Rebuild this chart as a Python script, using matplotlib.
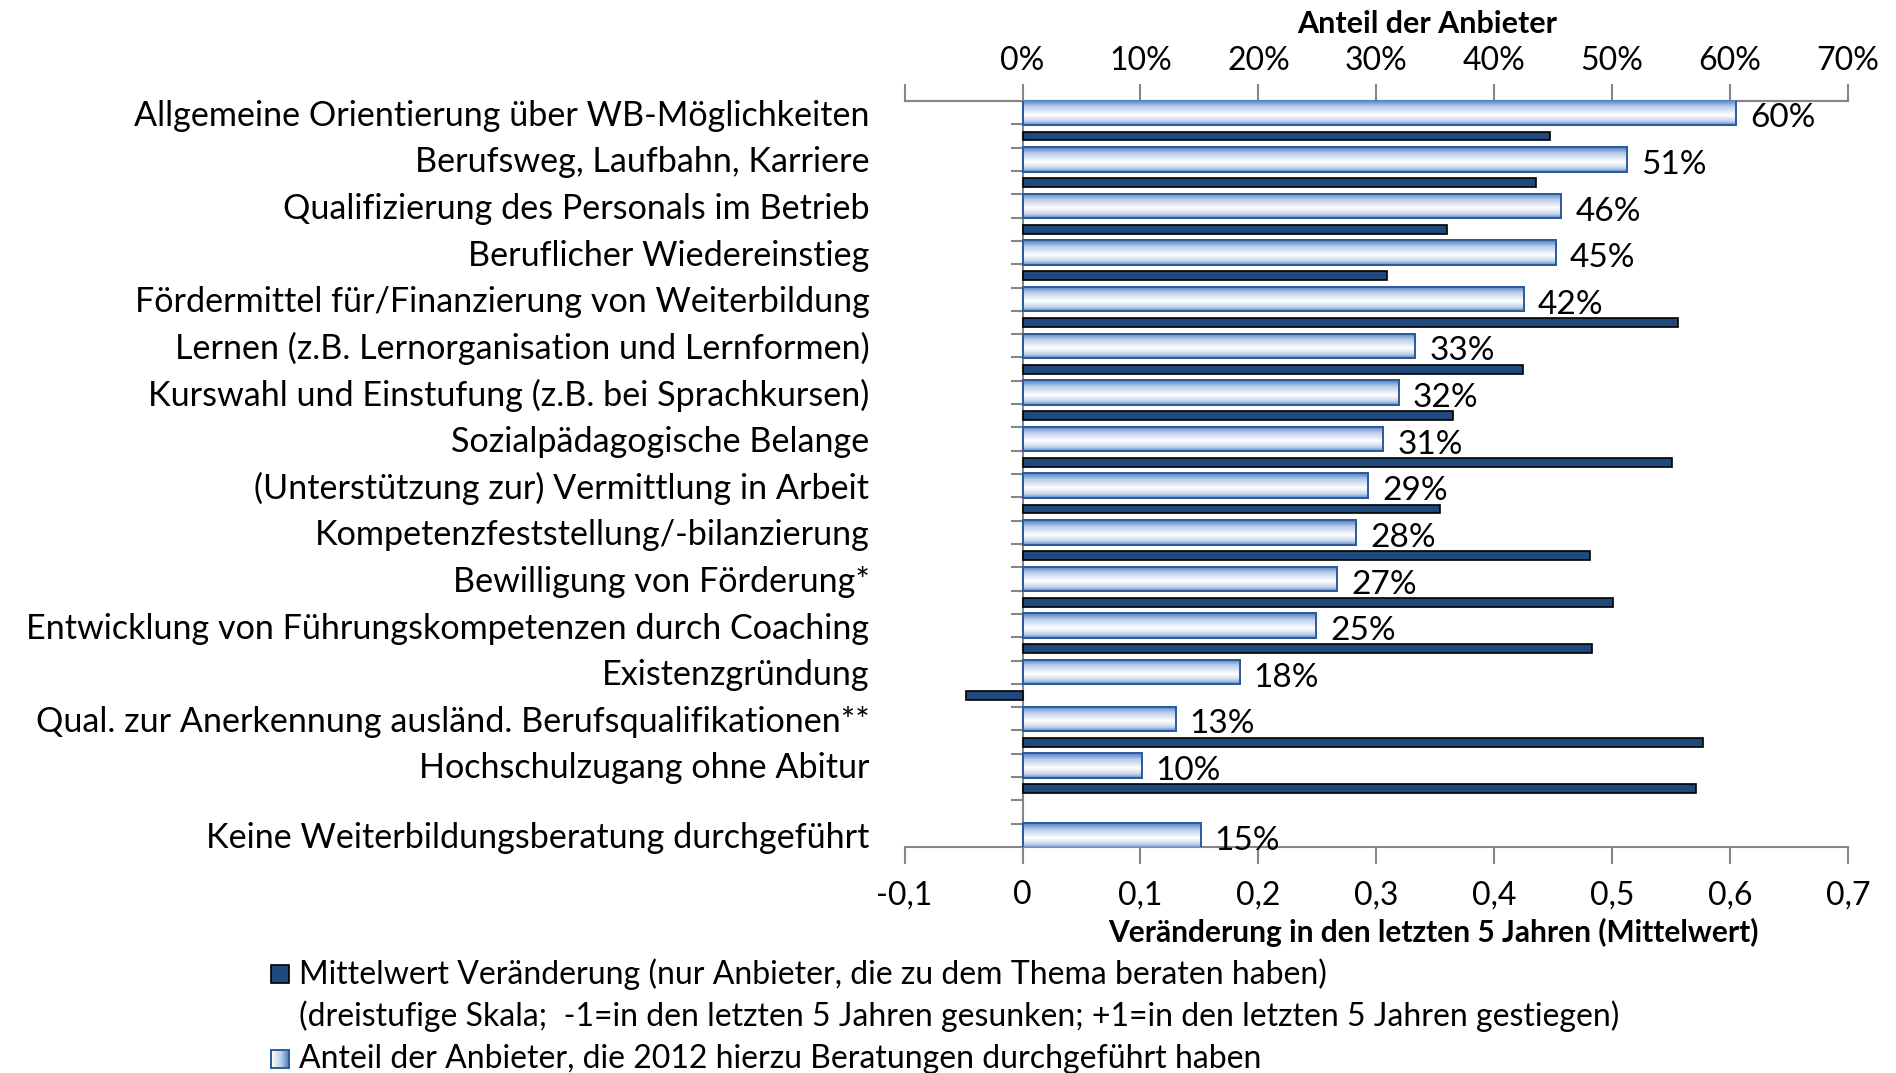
import matplotlib
matplotlib.use("Agg")
import matplotlib.pyplot as plt
import numpy as np
from matplotlib.colors import LinearSegmentedColormap
from matplotlib.patches import Rectangle
from matplotlib.transforms import blended_transform_factory, ScaledTranslation

plt.rcParams['font.family'] = ['Lato', 'DejaVu Sans']

categories = [
    "Allgemeine Orientierung über WB-Möglichkeiten",
    "Berufsweg, Laufbahn, Karriere",
    "Qualifizierung des Personals im Betrieb",
    "Beruflicher Wiedereinstieg",
    "Fördermittel für/Finanzierung von Weiterbildung",
    "Lernen (z.B. Lernorganisation und Lernformen)",
    "Kurswahl und Einstufung (z.B. bei Sprachkursen)",
    "Sozialpädagogische Belange",
    "(Unterstützung zur) Vermittlung in Arbeit",
    "Kompetenzfeststellung/-bilanzierung",
    "Bewilligung von Förderung*",
    "Entwicklung von Führungskompetenzen durch Coaching",
    "Existenzgründung",
    "Qual. zur Anerkennung ausländ. Berufsqualifikationen**",
    "Hochschulzugang ohne Abitur",
    "Keine Weiterbildungsberatung durchgeführt",
]
anteil = [0.605, 0.513, 0.457, 0.452, 0.425, 0.333, 0.319, 0.306, 0.293,
          0.283, 0.267, 0.249, 0.184, 0.130, 0.101, 0.151]
anteil_labels = ["60%", "51%", "46%", "45%", "42%", "33%", "32%", "31%", "29%",
                 "28%", "27%", "25%", "18%", "13%", "10%", "15%"]
mittelwert = [0.447, 0.435, 0.360, 0.309, 0.556, 0.424, 0.365, 0.551, 0.354,
              0.481, 0.501, 0.483, -0.048, 0.577, 0.571]
bottom_ticks = [-0.1, 0, 0.1, 0.2, 0.3, 0.4, 0.5, 0.6, 0.7]
bottom_labels = ["-0,1", "0", "0,1", "0,2", "0,3", "0,4", "0,5", "0,6", "0,7"]
top_labels = ["", "0%", "10%", "20%", "30%", "40%", "50%", "60%", "70%"]

FS = 23
FS_CAT = 24.6
GRAY = "#868686"
NAVY = "#1F497D"
EDGE_BLUE = "#2C5A9A"

fig = plt.figure(figsize=(18.96, 10.73), dpi=100)
ax = fig.add_axes([0.4771, 0.2106, 0.4976, 0.6952])

n = len(categories)
light_pos = [2 * i for i in range(n - 1)] + [31]
dark_pos = [2 * i + 1 for i in range(n - 1)]

grad_cmap = LinearSegmentedColormap.from_list(
    "g", [(0, "#4F7FC0"), (0.25, "#B9CDEA"), (0.6, "#FFFFFF"), (0.85, "#C3D4EC"), (1, "#5C88C6")])
grad = np.linspace(0, 1, 64).reshape(-1, 1)

bars = ax.barh(light_pos, anteil, height=1.05, color="#B9CDEA", edgecolor=EDGE_BLUE,
               linewidth=1.4, zorder=3)
for b in bars:
    x0, y0 = b.get_x(), b.get_y()
    w, h = b.get_width(), b.get_height()
    im = ax.imshow(grad, cmap=grad_cmap, aspect="auto", extent=(x0, x0 + w, y0 + h, y0),
                   zorder=3.5, interpolation="bilinear")
    im.set_clip_path(b)
ax.barh(light_pos, anteil, height=1.05, color="none", edgecolor=EDGE_BLUE, linewidth=1.4, zorder=4)

ax.barh(dark_pos, mittelwert, height=0.38, color=NAVY, edgecolor="black", linewidth=1.2, zorder=4)

for p, v, lab in zip(light_pos, anteil, anteil_labels):
    ax.annotate(lab, (v, p), xytext=(10, -4), textcoords="offset points",
                va="center", ha="left", fontsize=24, zorder=6)

ax.set_xlim(-0.1, 0.7)
ax.set_ylim(31.5, -0.5)

ax.spines["right"].set_visible(False)
ax.spines["left"].set_position(("data", 0))
for s in ["left", "top", "bottom"]:
    ax.spines[s].set_color(GRAY)
    ax.spines[s].set_linewidth(1.5)

ax.set_yticks([k + 0.5 for k in range(31)])
ax.set_yticklabels([])
ax.tick_params(axis="y", length=9, width=1.5, color=GRAY, direction="out")

ax.set_xticks(bottom_ticks)
ax.set_xticklabels(bottom_labels, fontsize=FS)
ax.tick_params(axis="x", length=12, width=1.5, color=GRAY, direction="out", pad=12)

sec = ax.secondary_xaxis("top")
sec.set_xticks(bottom_ticks)
sec.set_xticklabels(top_labels, fontsize=FS)
sec.tick_params(axis="x", length=12, width=1.5, color=GRAY, direction="out", pad=6)
sec.spines["top"].set_color(GRAY)
sec.spines["top"].set_linewidth(1.5)

trans = blended_transform_factory(fig.transFigure, ax.transData) + \
    ScaledTranslation(0, -3 / 100, fig.dpi_scale_trans)
for p, lab in zip(light_pos, categories):
    ax.text(869.5 / 1896, p, lab, transform=trans, ha="right", va="center", fontsize=FS_CAT)

fig.text(1427 / 1896, 1 - 24 / 1073, "Anteil der Anbieter", ha="center", va="center",
         fontsize=FS - 1, fontweight="bold")
fig.text(1433 / 1896, 1 - 932 / 1073, "Veränderung in den letzten 5 Jahren (Mittelwert)",
         ha="center", va="center", fontsize=FS - 1.5, fontweight="bold")

sq = 18
def legend_square(yc, kind):
    l = 271 / 1896
    b = 1 - (yc + sq / 2) / 1073
    if kind == "dark":
        fig.add_artist(Rectangle((l, b), sq / 1896, sq / 1073, transform=fig.transFigure,
                                 facecolor=NAVY, edgecolor="black", linewidth=1.2))
    else:
        lax = fig.add_axes([l, b, sq / 1896, sq / 1073])
        lax.imshow(np.linspace(0.6, 0, 32).reshape(1, -1), cmap=grad_cmap, aspect="auto",
                   extent=(0, 1, 0, 1), vmin=0, vmax=1)
        lax.set_xticks([]); lax.set_yticks([])
        for s in lax.spines.values():
            s.set_color(EDGE_BLUE); s.set_linewidth(1.4)

legend_square(974, "dark")
fig.text(299 / 1896, 1 - 974 / 1073,
         "Mittelwert Veränderung (nur Anbieter, die zu dem Thema beraten haben)",
         ha="left", va="center", fontsize=FS)
fig.text(299 / 1896, 1 - 1016 / 1073,
         "(dreistufige Skala;  -1=in den letzten 5 Jahren gesunken; +1=in den letzten 5 Jahren gestiegen)",
         ha="left", va="center", fontsize=FS)
legend_square(1059, "light")
fig.text(299 / 1896, 1 - 1059 / 1073,
         "Anteil der Anbieter, die 2012 hierzu Beratungen durchgeführt haben",
         ha="left", va="center", fontsize=FS)

fig.savefig("out.png", dpi=100)
